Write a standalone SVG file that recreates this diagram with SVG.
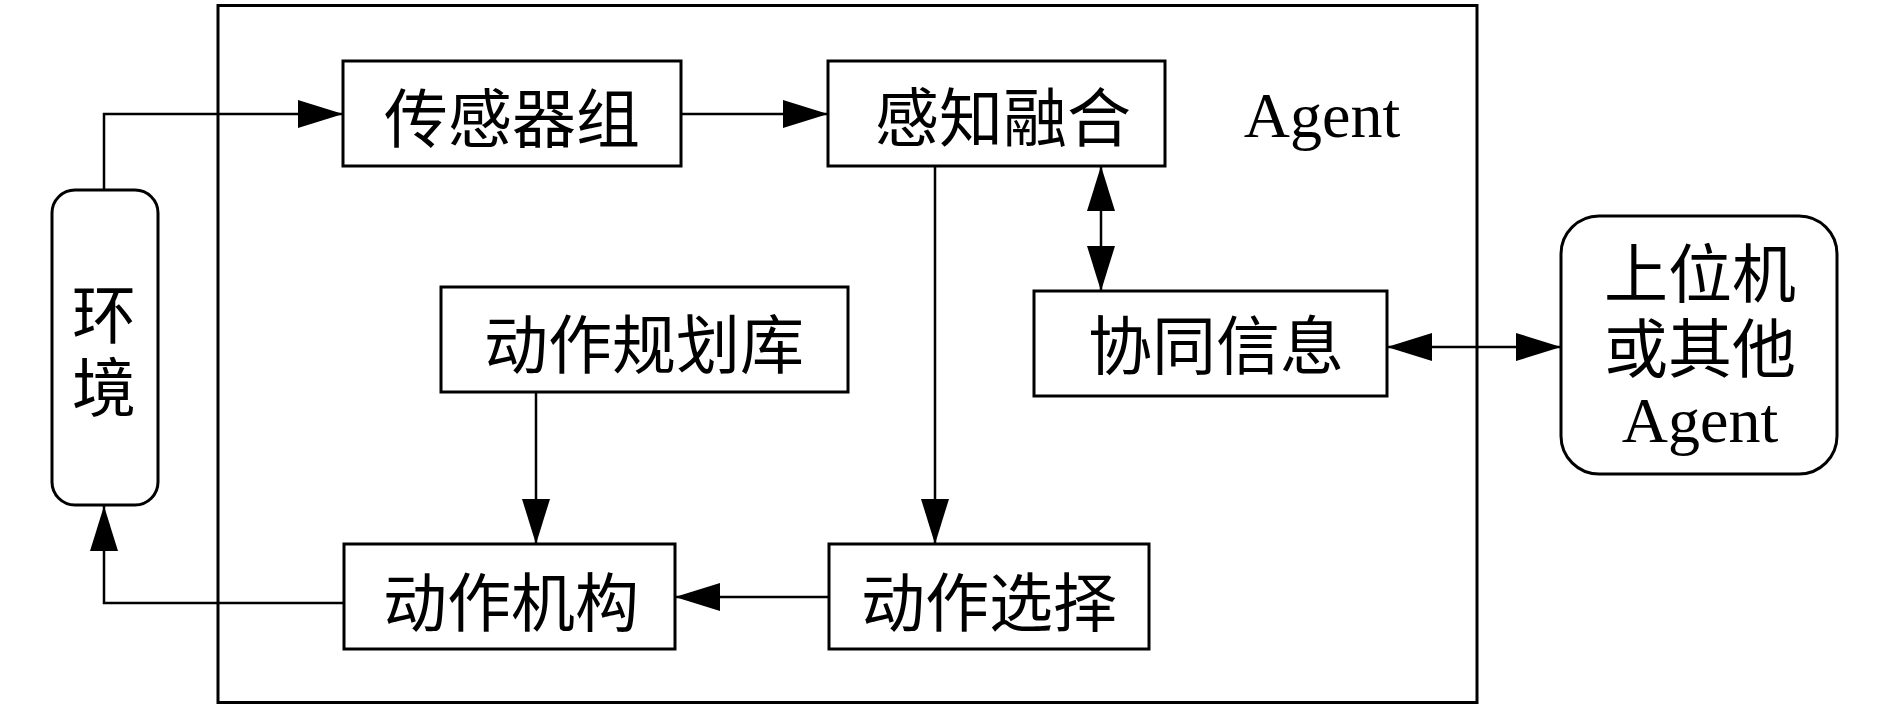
<svg xmlns="http://www.w3.org/2000/svg" width="1890" height="709" viewBox="0 0 1890 709">
  <style>
    .box { fill: #fff; stroke: #000; stroke-width: 3; }
    .frame { fill: none; stroke: #000; stroke-width: 3; }
    .line { fill: none; stroke: #000; stroke-width: 2.5; }
    .zh { font-family: "Noto Sans CJK SC", "Noto Sans", sans-serif; font-size: 64px; fill: #000; text-anchor: middle; dominant-baseline: central; }
    .en { font-family: "Liberation Serif", "Times New Roman", serif; font-size: 64px; fill: #000; text-anchor: middle; }
  </style>
  <defs>
    <marker id="arr" viewBox="0 0 45 28" refX="45" refY="14" markerWidth="45" markerHeight="28" markerUnits="userSpaceOnUse" orient="auto-start-reverse">
      <path d="M0,0 L45,14 L0,28 Z" fill="#000"/>
    </marker>
  </defs>
  <rect width="1890" height="709" fill="#fff"/>

  <g id="agent-frame">
    <rect class="frame" x="218" y="5.5" width="1259" height="697"/>
    <text class="en" x="1322" y="137">Agent</text>
  </g>

  <g id="connectors">
    <polyline class="line" points="104,190 104,114 343,114" marker-end="url(#arr)"/>
    <line class="line" x1="681" y1="114" x2="828" y2="114" marker-end="url(#arr)"/>
    <line class="line" x1="1101" y1="166" x2="1101" y2="291" marker-start="url(#arr)" marker-end="url(#arr)"/>
    <line class="line" x1="1387" y1="347" x2="1561" y2="347" marker-start="url(#arr)" marker-end="url(#arr)"/>
    <line class="line" x1="935" y1="166" x2="935" y2="544" marker-end="url(#arr)"/>
    <line class="line" x1="536" y1="392" x2="536" y2="544" marker-end="url(#arr)"/>
    <line class="line" x1="829" y1="597" x2="675" y2="597" marker-end="url(#arr)"/>
    <polyline class="line" points="344,603 104,603 104,506" marker-end="url(#arr)"/>
  </g>

  <g id="env">
    <rect class="box" x="52" y="190" width="106" height="315" rx="23" ry="23"/>
    <text class="zh" x="104" y="310">环<tspan x="104" dy="73">境</tspan></text>
  </g>

  <g id="sensors">
    <rect class="box" x="343" y="61" width="338" height="105"/>
    <text class="zh" x="512" y="114">传感器组</text>
  </g>

  <g id="fusion">
    <rect class="box" x="828" y="61" width="337" height="105"/>
    <text class="zh" x="1003" y="113">感知融合</text>
  </g>

  <g id="planlib">
    <rect class="box" x="441" y="287" width="407" height="105"/>
    <text class="zh" x="644" y="340">动作规划库</text>
  </g>

  <g id="coop">
    <rect class="box" x="1034" y="291" width="353" height="105"/>
    <text class="zh" x="1216" y="341">协同信息</text>
  </g>

  <g id="actuator">
    <rect class="box" x="344" y="544" width="331" height="105"/>
    <text class="zh" x="511" y="598">动作机构</text>
  </g>

  <g id="select">
    <rect class="box" x="829" y="544" width="320" height="105"/>
    <text class="zh" x="989" y="598">动作选择</text>
  </g>

  <g id="host">
    <rect class="box" x="1561" y="216" width="276" height="258" rx="38" ry="38"/>
    <text class="zh" x="1700" y="269">上位机<tspan x="1700" dy="75">或其他</tspan></text>
    <text class="en" x="1700" y="442">Agent</text>
  </g>
</svg>
